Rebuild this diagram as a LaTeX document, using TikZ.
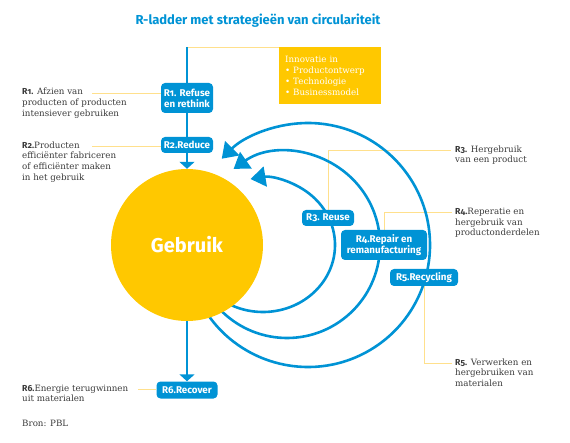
\documentclass[tikz,border=0pt]{standalone}
\usepackage{fontspec}
\setmainfont{DejaVu Serif}
\newfontfamily\rsans{Fira Sans}[Numbers=OldStyle]
\usetikzlibrary{arrows.meta,backgrounds}
\definecolor{rblue}{HTML}{0093D5}
\definecolor{ryellow}{HTML}{FFC800}
\definecolor{rleader}{HTML}{FFE08C}
\definecolor{rtext}{HTML}{3A3A3A}
\newcommand\Rlab[1]{{\rsans\bfseries #1}}
\begin{document}
\begin{tikzpicture}[x=1pt,y=1pt,
  rbox/.style={fill=rblue, rounded corners=4pt, text=white, inner sep=0pt, align=center,
    font=\rsans\bfseries\fontsize{9.8}{11}\selectfont},
  lbl/.style={anchor=north west, align=left, text=rtext, inner sep=0pt,
    font=\fontsize{8.7}{10.6}\selectfont},
  leader/.style={draw=rleader, line width=0.9pt},
  flow/.style={draw=rblue, line width=2.4pt},
  flowtip/.style={flow, -{Triangle[length=7pt,width=15pt]}},
  loop/.style={draw=rblue, line width=2.6pt, -{Triangle[length=15pt,width=20pt]}},
]
\useasboundingbox (0,0) rectangle (570,-443);

\node[font=\rsans\bfseries\fontsize{13}{15}\selectfont, text=rblue, inner sep=0pt] (title) at (258,-21) {R-ladder met strategieën van circulariteit};

\node[circle, fill=ryellow, minimum size=152pt, inner sep=0pt, text=white,
  font=\rsans\bfseries\fontsize{20}{22}\selectfont] (geb) at (187,-245) {Gebruik};

\node[fill=ryellow, anchor=north west, minimum width=102pt, minimum height=57pt,
  text width=90pt, inner xsep=6pt, align=left, text=white,
  font=\fontsize{8.7}{11.2}\selectfont] (inno) at (279,-47)
  {Innovatie in\\\textbullet\ Productontwerp\\\textbullet\ Technologie\\\textbullet\ Businessmodel};

\node[rbox, minimum width=52pt, minimum height=30pt] (r1) at (187,-98) {R1. Refuse\\en rethink};
\node[rbox, minimum width=52pt, minimum height=16pt] (r2) at (187,-145) {R2.Reduce};
\node[rbox, minimum width=52pt, minimum height=16pt] (r3) at (328,-218) {R3. Reuse};
\node[rbox, minimum width=86pt, minimum height=30pt] (r4) at (384,-245) {R4.Repair en\\remanufacturing};
\node[rbox, minimum width=68pt, minimum height=17pt] (r5) at (424,-277.5) {R5.Recycling};
\node[rbox, minimum width=61pt, minimum height=17pt] (r6) at (187,-390) {R6.Recover};

\node[lbl] (t1) at (22,-88) {\Rlab{R1.} Afzien van\\producten of producten\\intensiever gebruiken};
\node[lbl] (t2) at (22,-141.5) {\Rlab{R2.}Producten\\efficiënter fabriceren\\of efficiënter maken\\in het gebruik};
\node[lbl] (t3) at (455,-145.5) {\Rlab{R3.} Hergebruik\\van een product};
\node[lbl] (t4) at (455,-208) {\Rlab{R4.}Reperatie en\\hergebruik van\\productonderdelen};
\node[lbl] (t5) at (455,-358.5) {\Rlab{R5.} Verwerken en\\hergebruiken van\\materialen};
\node[lbl] (t6) at (22,-384.5) {\Rlab{R6.}Energie terugwinnen\\uit materialen};
\node[lbl] (bron) at (22,-419.5) {Bron: PBL};

\coordinate (top) at (187,-47);
\coordinate (l1) at (92,-93);
\coordinate (l2) at (92,-146);
\coordinate (l3) at (451,-150);
\coordinate (l4) at (452,-212);
\coordinate (l5) at (452,-363);
\coordinate (l6) at (138,-389);
\coordinate (c3) at (263,-245);
\coordinate (c4) at (287,-245);
\coordinate (c5) at (308,-245);

\draw[flow] (top) -- (r1);
\draw[flow] (r1) -- (r2);
\draw[flowtip] (r2) -- (geb);
\draw[flowtip] (geb) -- (r6);

\begin{scope}[on background layer]
\draw[leader] (top) -- (inno.north west);
\draw[leader] (l1) -- (l1 -| r1.west);
\draw[leader] (l2) -- (l2 -| r2.west);
\draw[leader] (l3) -| (r3.north);
\draw[leader] (l4) -| (r4.north);
\draw[leader] (r5.south) |- (l5);
\draw[leader] (l6) -- (l6 -| r6.west);
\draw[loop] (c3) ++(230:72pt and 67pt) arc[start angle=230, end angle=460, x radius=72pt, y radius=67pt];
\draw[loop] (c4) ++(220:93pt) arc[start angle=220, end angle=485, radius=93pt];
\draw[loop] (c5) ++(212:122pt) arc[start angle=212, end angle=495, radius=122pt];
\end{scope}
\end{tikzpicture}
\end{document}
